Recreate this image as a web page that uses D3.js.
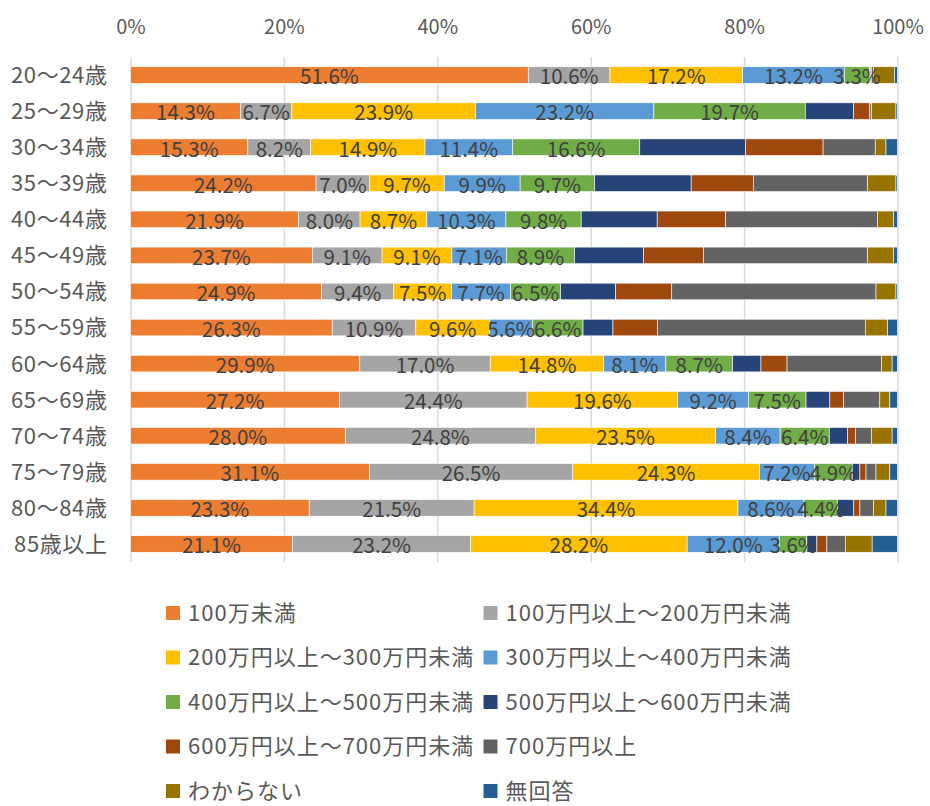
<!DOCTYPE html>
<html>
<head>
<meta charset="utf-8">
<script src="https://cdn.jsdelivr.net/npm/d3@7"></script>
<style>
  body { margin: 0; background: #fff; }
  text { font-family: "Noto Sans CJK JP", "Noto Sans", sans-serif; }
</style>
</head>
<body>
<div id="chart"></div>
<script>
// age groups (rows, top to bottom)
var ageGroups = ["20〜24歳", "25〜29歳", "30〜34歳", "35〜39歳", "40〜44歳", "45〜49歳",
  "50〜54歳", "55〜59歳", "60〜64歳", "65〜69歳", "70〜74歳", "75〜79歳", "80〜84歳", "85歳以上"];

// income bands (series) and Excel-like colours
var seriesNames = ["100万未満", "100万円以上〜200万円未満", "200万円以上〜300万円未満",
  "300万円以上〜400万円未満", "400万円以上〜500万円未満", "500万円以上〜600万円未満",
  "600万円以上〜700万円未満", "700万円以上", "わからない", "無回答"];
var seriesColors = ["#ED7D31", "#A5A5A5", "#FFC000", "#5B9BD5", "#70AD47",
  "#264478", "#9E480E", "#636363", "#997300", "#255E91"];

// percentages per series, one value per age group
var under100  = [51.6, 14.3, 15.3, 24.2, 21.9, 23.7, 24.9, 26.3, 29.9, 27.2, 28.0, 31.1, 23.3, 21.1];
var r100to200 = [10.6,  6.7,  8.2,  7.0,  8.0,  9.1,  9.4, 10.9, 17.0, 24.4, 24.8, 26.5, 21.5, 23.2];
var r200to300 = [17.2, 23.9, 14.9,  9.7,  8.7,  9.1,  7.5,  9.6, 14.8, 19.6, 23.5, 24.3, 34.4, 28.2];
var r300to400 = [13.2, 23.2, 11.4,  9.9, 10.3,  7.1,  7.7,  5.6,  8.1,  9.2,  8.4,  7.2,  8.6, 12.0];
var r400to500 = [ 3.3, 19.7, 16.6,  9.7,  9.8,  8.9,  6.5,  6.6,  8.7,  7.5,  6.4,  4.9,  4.4,  3.6];
var r500to600 = [ 0.1,  6.3, 13.8, 12.6,  9.9,  9.0,  7.2,  3.9,  3.7,  3.1,  2.4,  1.0,  2.1,  1.3];
var r600to700 = [ 0.1,  2.1, 10.1,  8.1,  8.9,  7.8,  7.3,  5.8,  3.4,  1.8,  1.0,  0.8,  0.8,  1.3];
var over700   = [ 0.3,  0.2,  6.8, 14.9, 19.8, 21.4, 26.6, 27.1, 12.3,  4.7,  2.1,  1.3,  1.8,  2.4];
var unknown   = [ 2.7,  3.2,  1.4,  3.7,  2.1,  3.4,  2.6,  2.9,  1.4,  1.3,  2.7,  1.8,  1.6,  3.5];
var noAnswer  = [ 0.4,  0.2,  1.5,  0.2,  0.5,  0.5,  0.2,  1.3,  0.7,  1.0,  0.7,  1.0,  1.5,  3.3];

var seriesValues = [under100, r100to200, r200to300, r300to400, r400to500,
  r500to600, r600to700, over700, unknown, noAnswer];

// only the first five series carry data labels
var labelledSeries = 5;

var xTicks = [0, 0.2, 0.4, 0.6, 0.8, 1.0];

// drawing area
var width = 930, height = 806;
var plot = { left: 130.5, right: 897.5, top: 57, bottom: 562 };

// build one row object per age group, keyed by series index
var table = ageGroups.map(function (g, i) {
  var row = { group: g };
  seriesValues.forEach(function (vals, s) { row[s] = vals[i]; });
  return row;
});

var stack = d3.stack()
  .keys(d3.range(seriesNames.length))
  .offset(d3.stackOffsetExpand);
var layers = stack(table);

var x = d3.scaleLinear().domain([0, 1]).range([plot.left, plot.right]);
var y = d3.scaleBand().domain(ageGroups).range([plot.top, plot.bottom]).paddingInner(0.54).paddingOuter(0.27);
var color = d3.scaleOrdinal().domain(d3.range(seriesNames.length)).range(seriesColors);

var svg = d3.select("#chart").append("svg")
  .attr("width", width)
  .attr("height", height);

// vertical gridlines
svg.append("g")
  .attr("class", "grid")
  .attr("transform", "translate(0," + plot.bottom + ")")
  .call(d3.axisBottom(x).tickValues(xTicks).tickSize(0).tickFormat(""))
  .call(function (g) {
    g.select(".domain").remove();
    g.selectAll(".tick line")
      .attr("y2", -(plot.bottom - plot.top))
      .attr("stroke", "#d9d9d9")
      .attr("stroke-width", 1.5);
  });

// percentage labels on top
svg.append("g")
  .attr("class", "x axis")
  .attr("transform", "translate(0," + plot.top + ")")
  .call(d3.axisTop(x).tickValues(xTicks).tickSize(0).tickPadding(23).tickFormat(d3.format(".0%")))
  .call(function (g) {
    g.select(".domain").remove();
    g.selectAll("text")
      .attr("fill", "#595959")
      .attr("font-size", "20px");
  });

// category labels on the left
svg.append("g")
  .attr("class", "y axis")
  .attr("transform", "translate(" + (plot.left - 23) + ",0)")
  .call(d3.axisLeft(y).tickSize(0).tickPadding(0))
  .call(function (g) {
    g.select(".domain").remove();
    g.selectAll("text")
      .attr("fill", "#595959")
      .attr("font-size", "22px")
      .attr("letter-spacing", "0.6px")
      .attr("dy", "0.36em");
  });

// stacked bars
svg.append("g")
  .selectAll("g")
  .data(layers)
  .enter().append("g")
  .attr("fill", function (d) { return color(d.key); })
  .selectAll("rect")
  .data(function (d) { return d; })
  .enter().append("rect")
  .attr("x", function (d) { return x(d[0]); })
  .attr("y", function (d) { return y(d.data.group); })
  .attr("width", function (d) { return Math.max(0, x(d[1]) - x(d[0])); })
  .attr("height", y.bandwidth())
  .attr("stroke", "#ffffff")
  .attr("stroke-width", 0.6);

// data labels, drawn above every bar
svg.append("g")
  .selectAll("g")
  .data(layers.slice(0, labelledSeries))
  .enter().append("g")
  .selectAll("text")
  .data(function (d) { return d.map(function (p) { return { p: p, key: d.key }; }); })
  .enter().append("text")
  .attr("x", function (d) { return (x(d.p[0]) + x(d.p[1])) / 2; })
  .attr("y", function (d) { return y(d.p.data.group) + y.bandwidth() / 2 + 2; })
  .attr("dy", "0.36em")
  .attr("text-anchor", "middle")
  .attr("font-size", "20.5px")
  .attr("fill", "#404040")
  .text(function (d) { return d.p.data[d.key].toFixed(1) + "%"; });

// legend: two columns
var legendCols = [166, 483.5];
var legendTop = 613, legendStep = 44.5;
var legend = svg.append("g")
  .selectAll("g")
  .data(seriesNames)
  .enter().append("g")
  .attr("transform", function (d, i) {
    return "translate(" + legendCols[i % 2] + "," + (legendTop + Math.floor(i / 2) * legendStep) + ")";
  });

legend.append("rect")
  .attr("x", 0)
  .attr("y", -7)
  .attr("width", 14)
  .attr("height", 14)
  .attr("fill", function (d, i) { return seriesColors[i]; });

legend.append("text")
  .attr("x", 22)
  .attr("y", 0)
  .attr("dy", "0.36em")
  .attr("font-size", "22px")
  .attr("letter-spacing", "1px")
  .attr("fill", "#595959")
  .text(function (d) { return d; });
</script>
</body>
</html>
